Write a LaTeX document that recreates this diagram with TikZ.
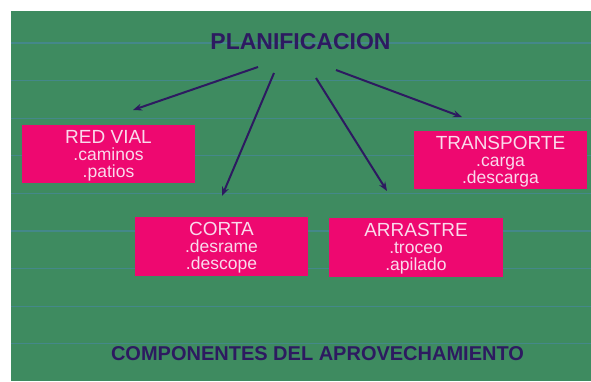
\documentclass[tikz,border=0pt]{standalone}
\usepackage{fontspec}
\setmainfont{Liberation Sans}
\usetikzlibrary{arrows.meta}
\definecolor{boardgreen}{RGB}{62,139,96}
\definecolor{ruleblue}{RGB}{68,136,138}
\definecolor{boxpink}{RGB}{238,8,112}
\definecolor{boxtext}{RGB}{250,218,236}
\definecolor{inkblue}{RGB}{45,26,96}
\tikzset{
  compbox/.style={fill=boxpink, draw=none, minimum width=173pt, minimum height=58pt,
    inner sep=0pt, text=boxtext, align=center, font=\fontsize{17.5}{17}\selectfont},
  heading/.style={text=inkblue, inner sep=0pt, anchor=base, font=\bfseries\fontsize{23}{23}\selectfont},
  footer/.style={text=inkblue, inner sep=0pt, anchor=base, font=\bfseries\fontsize{20}{20}\selectfont},
  flow/.style={draw=inkblue, line width=2pt, -{Stealth[length=9pt,width=7pt]}},
  ruling/.style={draw=ruleblue, line width=1.3pt}
}
\newcommand{\ttl}[1]{{\fontsize{19}{17}\selectfont\rule{0pt}{16pt}#1}}
\begin{document}
\begin{tikzpicture}[x=1pt,y=-1pt]
\useasboundingbox (0,0) rectangle (591,381);
\fill[white] (0,0) rectangle (591,381);
\fill[boardgreen] (11,11) rectangle (591,381);
\foreach \k in {0,...,8}{
  \draw[ruling] (11,{43+37.6*\k}) -- (591,{43+37.6*\k});
}
% title and footer
\node[heading] (plan) at (300.5,49) {PLANIFICACION};
\node[footer] (comp) at (317.5,360) {COMPONENTES DEL APROVECHAMIENTO};
% boxes
\node[compbox] (red) at (108.5,154) {\ttl{RED VIAL}\\.caminos\\.patios};
\node[compbox, minimum height=59pt] (corta) at (221.5,246.5) {\ttl{CORTA}\\.desrame\\.descope};
\node[compbox, minimum width=174pt, minimum height=59pt] (arr) at (416,247.5) {\ttl{ARRASTRE}\\.troceo\\.apilado};
\node[compbox] (trans) at (500.5,160) {\ttl{TRANSPORTE}\\.carga\\.descarga};
% arrow end points
\coordinate (s1) at (258,67);  \coordinate (e1) at (133,110);
\coordinate (s2) at (274,73);  \coordinate (e2) at (222,196);
\coordinate (s3) at (316,78);  \coordinate (e3) at (387,191);
\coordinate (s4) at (336,70);  \coordinate (e4) at (462,117);
\draw[flow] (s1) -- (e1);
\draw[flow] (s2) -- (e2);
\draw[flow] (s3) -- (e3);
\draw[flow] (s4) -- (e4);
\end{tikzpicture}
\end{document}
